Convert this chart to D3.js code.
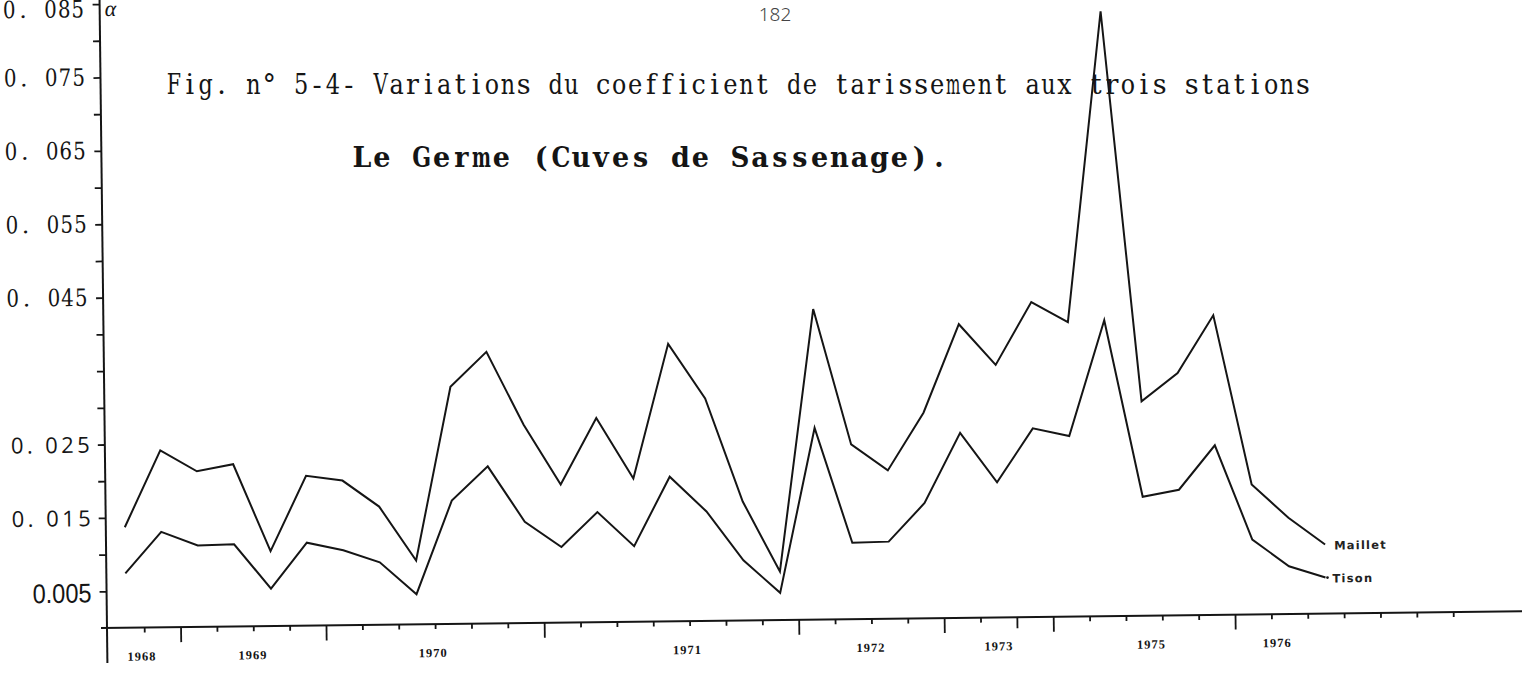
<!DOCTYPE html>
<html><head><meta charset="utf-8">
<script src="https://cdn.jsdelivr.net/npm/d3@7"></script>
<style>
html,body{margin:0;padding:0;background:#fff;}
svg{display:block;}
</style>
</head><body>
<svg id="chart" width="1522" height="674"></svg>
<script>
// Recession coefficient (alpha) per recession episode, Le Germe at the Cuves de Sassenage
const stations = ["Maillet", "Tison"];
const maillet = [0.0137,0.0241,0.0212,0.0221,0.0102,0.0204,0.0197,0.0161,0.0087,0.0323,
                 0.0370,0.0270,0.0188,0.0278,0.0195,0.0378,0.0303,0.0162,0.0066,0.0423,
                 0.0238,0.0202,0.0280,0.0400,0.0344,0.0429,0.0401,0.0824,0.0292,0.0330,
                 0.0408,0.0177,0.0131,0.0094];
const tison   = [0.0074,0.0130,0.0111,0.0112,0.0051,0.0113,0.0102,0.0085,0.0041,0.0168,
                 0.0214,0.0138,0.0103,0.0150,0.0103,0.0197,0.0149,0.0082,0.0037,0.0261,
                 0.0104,0.0105,0.0157,0.0252,0.0184,0.0257,0.0246,0.0403,0.0162,0.0171,
                 0.0231,0.0102,0.0065,0.0049];

// Year labels and where they sit along the episode axis
const yearLabels = ["1968","1969","1970","1971","1972","1973","1975","1976"];
const yearPos    = [0.43, 3.48, 8.44, 15.43, 20.48, 24.0, 28.19, 31.65];

// Vertical axis
const yTypedValues = [0.085, 0.075, 0.065, 0.055, 0.045];
const yTypedLabels = ["0. 085", "0. 075", "0. 065", "0. 055", "0. 045"];
const yLightValues = [0.025, 0.015];
const yLightLabels = ["0. 025", "0. 015"];
const yNarrowValues = [0.005];
const yNarrowLabels = ["0.005"];
const yMinorValues = [0.08, 0.07, 0.06, 0.05, 0.04, 0.035, 0.03, 0.02, 0.01];

// Horizontal axis ticks (between episodes)
const xTickValues = d3.range(0.5, 37, 1);
const xLongTicks = [1.5, 5.5, 11.5, 18.5, 22.5, 25.5, 30.5];
const xMidTicks = [24.5];

const INK = "#151515";
const TYPE_FONT = "DejaVu Serif, Liberation Serif, serif";
const svg = d3.select("#chart");

const x = d3.scaleLinear().domain([0, maillet.length - 1]).range([126, 1326]);
const y = d3.scaleLinear().domain([0, 0.085]).range([628, 4]);

// Fixed-pitch "typewriter" text: one glyph per cell, wide glyphs squeezed to fit the cell
function typed(parent, str, x0, baseline, pitch, size, fill, weight) {
  const grp = parent.append("g").attr("transform", `translate(${x0},${baseline})`);
  Array.from(str).forEach((ch, i) => {
    if (ch === " ") return;
    const t = grp.append("text")
      .attr("font-family", TYPE_FONT)
      .attr("font-size", size)
      .attr("font-weight", weight || "normal")
      .attr("fill", INK)
      .attr("text-anchor", "middle")
      .text(ch);
    const w = t.node().getComputedTextLength() || 1;
    const s = Math.min(1, (pitch * fill) / w);
    t.attr("transform", `translate(${i * pitch + pitch / 2},0) scale(${s},1)`);
  });
  return grp;
}

// Page header
svg.append("text")
  .attr("x", 775).attr("y", 21)
  .attr("text-anchor", "middle")
  .attr("font-family", "Noto Sans, DejaVu Sans, sans-serif")
  .attr("font-weight", 300)
  .attr("font-size", 19)
  .attr("fill", "#444")
  .text("182");

// Title lines
typed(svg, "Fig. n° 5-4- Variations du coefficient de tarissement aux trois stations",
      166, 94, 15.9, 27, 0.9, "normal");
typed(svg, "Le Germe (Cuves de Sassenage).", 352, 167, 19.9, 27, 0.95, "bold");

// Plot frame, slightly turned as on the original sheet
const g = svg.append("g").attr("transform", "rotate(-0.68,107,628)");

// Axes lines
g.append("line").attr("x1", 107).attr("x2", 107).attr("y1", -8).attr("y2", 663)
  .attr("stroke", INK).attr("stroke-width", 2);
g.append("line").attr("x1", 101).attr("x2", 1560).attr("y1", 628).attr("y2", 628)
  .attr("stroke", INK).attr("stroke-width", 2);

// Y ticks
const yAxis = d3.axisLeft(y)
  .tickValues([...yTypedValues, ...yLightValues, ...yNarrowValues, ...yMinorValues])
  .tickSize(7).tickFormat("");
const yAxisG = g.append("g").attr("transform", "translate(107,0)").call(yAxis);
yAxisG.select(".domain").remove();
yAxisG.selectAll(".tick line").attr("stroke", INK).attr("stroke-width", 1.8);

// Y labels in three lettering styles (top label kept inside the sheet)
yTypedValues.forEach((v, i) => {
  const base = Math.max(y(v) + 8, 17);
  typed(g, yTypedLabels[i], 92 - 6 * 13.7, base, 13.7, 24, 0.92, "normal");
});
yLightValues.forEach((v, i) => {
  g.append("text")
    .attr("x", 13).attr("y", y(v) + 8)
    .attr("font-family", "Open Sans, DejaVu Sans, sans-serif")
    .attr("font-weight", 400)
    .attr("font-size", 22)
    .attr("fill", INK)
    .attr("textLength", 79)
    .attr("lengthAdjust", "spacing")
    .text(yLightLabels[i]);
});
yNarrowValues.forEach((v, i) => {
  g.append("text")
    .attr("x", 33).attr("y", y(v) + 11)
    .attr("font-family", "Liberation Sans, Arial, sans-serif")
    .attr("font-size", 27)
    .attr("fill", INK)
    .attr("textLength", 59)
    .attr("lengthAdjust", "spacingAndGlyphs")
    .text(yNarrowLabels[i]);
});

// Alpha symbol at the top of the axis
g.append("text")
  .attr("x", 112).attr("y", 16)
  .attr("font-family", "Liberation Serif, serif")
  .attr("font-style", "italic")
  .attr("font-size", 22)
  .attr("fill", INK)
  .text("α");

// X ticks
const xAxis = d3.axisBottom(x).tickValues(xTickValues).tickSize(5).tickFormat("");
const xAxisG = g.append("g").attr("transform", "translate(0,628)").call(xAxis);
xAxisG.select(".domain").remove();
xAxisG.selectAll(".tick line")
  .attr("stroke", INK).attr("stroke-width", 1.8)
  .attr("y2", d => xLongTicks.includes(d) ? 15 : (xMidTicks.includes(d) ? 11 : 5));

// Year labels
yearLabels.forEach((lab, i) => {
  g.append("text")
    .attr("x", x(yearPos[i])).attr("y", 661)
    .attr("text-anchor", "middle")
    .attr("font-family", "Liberation Serif, serif")
    .attr("font-weight", "bold")
    .attr("font-size", 12.5)
    .attr("letter-spacing", 1)
    .attr("fill", INK)
    .text(lab);
});

// Series
const line = d3.line().x((d, i) => x(i)).y(d => y(d));
[maillet, tison].forEach(series => {
  g.append("path")
    .datum(series)
    .attr("d", line)
    .attr("fill", "none")
    .attr("stroke", INK)
    .attr("stroke-width", 2)
    .attr("stroke-linejoin", "miter");
});

// End labels
const last = maillet.length - 1;
[[maillet, stations[0], 9, 5], [tison, stations[1], 7, 5]].forEach(([s, name, dx, dy]) => {
  g.append("text")
    .attr("x", x(last) + dx).attr("y", y(s[last]) + dy)
    .attr("font-family", "DejaVu Sans, sans-serif")
    .attr("font-size", 11.5)
    .attr("font-weight", "bold")
    .attr("letter-spacing", 1.2)
    .attr("fill", "#222")
    .text(name);
});
g.append("circle").attr("cx", x(last) + 2).attr("cy", y(tison[last])).attr("r", 1.4).attr("fill", INK);
</script>
</body></html>
